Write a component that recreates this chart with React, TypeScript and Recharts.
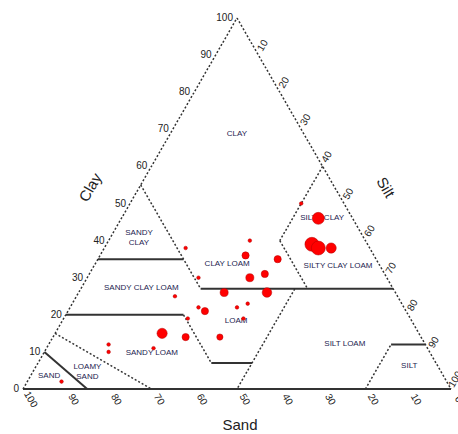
import { ScatterChart, Scatter, XAxis, YAxis, ZAxis, ReferenceLine, ReferenceDot } from "recharts";

// ternary points are [sand, silt, clay] in %
type Tern = [number, number, number];

const sandPct = [43, 27, 30, 23, 28, 32, 44, 40, 30, 36, 39, 48, 47, 52, 52, 39, 60, 55, 47, 74, 75, 64, 90, 10, 8, 13, 12, 9];
const siltPct = [19, 33, 34, 42, 41, 38, 26, 34, 44, 41, 39, 30, 32, 23, 29, 42, 25, 31, 39, 14, 15, 25, 8, 40, 46, 48, 50, 53];
const clayPct = [38, 40, 36, 35, 31, 30, 30, 26, 26, 23, 22, 22, 21, 25, 19, 19, 15, 14, 14, 12, 10, 11, 2, 50, 46, 39, 38, 38];
const weight = [1, 1, 4, 4, 4, 5, 1, 5, 7, 1, 1, 1, 4, 1, 1, 1, 8, 4, 3, 1, 1, 1, 1, 1, 11, 15, 15, 8];

const tickValues = [0, 10, 20, 30, 40, 50, 60, 70, 80, 90, 100];

// texture class boundaries
const solidLines: [Tern, Tern][] = [
  [[100, 0, 0], [0, 100, 0]],
  [[65, 0, 35], [45, 20, 35]],
  [[45, 28, 27], [0, 73, 27]],
  [[80, 0, 20], [52.5, 27.5, 20]],
  [[52.5, 40.5, 7], [43, 50, 7]],
  [[8, 80, 12], [0, 88, 12]],
  [[90, 0, 10], [85, 15, 0]],
];
const dottedLines: [Tern, Tern][] = [
  [[100, 0, 0], [0, 0, 100]],
  [[0, 0, 100], [0, 100, 0]],
  [[45, 0, 55], [45, 28, 27]],
  [[0, 40, 60], [20, 40, 40]],
  [[20, 40, 40], [20, 53, 27]],
  [[52.5, 27.5, 20], [52.5, 40.5, 7]],
  [[23, 50, 27], [50, 50, 0]],
  [[20, 80, 0], [8, 80, 12]],
  [[85, 0, 15], [70, 30, 0]],
];

const regionNames = ["CLAY", "SANDY|CLAY", "CLAY LOAM", "SANDY CLAY LOAM", "LOAM", "SANDY LOAM", "LOAMY|SAND", "SAND", "SILTY CLAY", "SILTY CLAY LOAM", "SILT LOAM", "SILT"];
const regionAt: Tern[] = [
  [15.5, 15.5, 69], [52.4, 6.6, 41], [35.3, 30.7, 34], [58.6, 13.9, 27.5], [40.9, 40.5, 18.6], [64.9, 25.1, 10],
  [82.5, 12.6, 4.9], [92, 4.2, 3.8], [6.9, 46.7, 46.4], [9.7, 56.9, 33.4], [18.6, 69, 12.4], [6.5, 87, 6.5],
];

const toXY = ([sand, silt, clay]: Tern) => ({ x: silt + clay / 2, y: clay });

const points = sandPct.map((s, i) => ({ ...toXY([s, siltPct[i], clayPct[i]]), z: weight[i] }));

const font = "'Liberation Sans', Arial, sans-serif";

export default function App() {
  return (
    <div style={{ position: "absolute", left: 0, top: 0, background: "#fff" }}>
      <ScatterChart width={458} height={434} margin={{ top: 18, right: 7, bottom: 45, left: 23 }}>
        <XAxis type="number" dataKey="x" domain={[0, 100]} hide />
        <YAxis type="number" dataKey="y" domain={[0, 100]} hide />
        <ZAxis type="number" dataKey="z" domain={[0, 15]} range={[0, 154]} />
        {dottedLines.map((seg, i) => (
          <ReferenceLine key={"d" + i} segment={[toXY(seg[0]), toXY(seg[1])]} stroke="#333" strokeWidth={1.5} strokeDasharray="2 2" ifOverflow="visible" />
        ))}
        {solidLines.map((seg, i) => (
          <ReferenceLine key={"s" + i} segment={[toXY(seg[0]), toXY(seg[1])]} stroke="#333" strokeWidth={2} ifOverflow="visible" />
        ))}
        {tickValues.map((v) => (
          <ReferenceDot key={"c" + v} {...toXY([100 - v, 0, v])} r={1} ifOverflow="visible"
            shape={(p: any) => (
              <text x={p.cx - 4} y={p.cy + 3} textAnchor="end" fontSize={10} fontFamily={font} fill="#222">{v}</text>
            )} />
        ))}
        {tickValues.slice(1).map((v) => (
          <ReferenceDot key={"t" + v} {...toXY([0, v, 100 - v])} r={1} ifOverflow="visible"
            shape={(p: any) => (
              <text x={p.cx + 7} y={p.cy - 8} textAnchor="middle" fontSize={10} fontFamily={font} fill="#222"
                transform={`rotate(-60 ${p.cx + 7} ${p.cy - 8})`}>{v}</text>
            )} />
        ))}
        {tickValues.map((v) => (
          <ReferenceDot key={"n" + v} {...toXY([v, 100 - v, 0])} r={1} ifOverflow="visible"
            shape={(p: any) => (
              <text x={p.cx + 5} y={p.cy + 12} textAnchor="middle" fontSize={10} fontFamily={font} fill="#222"
                transform={`rotate(60 ${p.cx + 5} ${p.cy + 12})`}>{v}</text>
            )} />
        ))}
        {regionNames.map((name, i) => (
          <ReferenceDot key={name} {...toXY(regionAt[i])} r={1} ifOverflow="visible"
            shape={(p: any) => (
              <text x={p.cx} y={p.cy + 3} textAnchor="middle" fontSize={8} fontFamily={font} fill="#1c1c50">
                {name.split("|").map((part, k, arr) => (
                  <tspan key={k} x={p.cx} dy={k === 0 ? (arr.length > 1 ? -5 : 0) : 10}>{part}</tspan>
                ))}
              </text>
            )} />
        ))}
        <ReferenceDot {...toXY([45, 0, 55])} r={1} ifOverflow="visible"
          shape={(p: any) => (
            <text x={p.cx - 46} y={p.cy + 5} textAnchor="middle" fontSize={15} fontFamily={font} fill="#222"
              transform={`rotate(-60 ${p.cx - 46} ${p.cy + 5})`}>Clay</text>
          )} />
        <ReferenceDot {...toXY([0, 45, 55])} r={1} ifOverflow="visible"
          shape={(p: any) => (
            <text x={p.cx + 48} y={p.cy + 5} textAnchor="middle" fontSize={15} fontFamily={font} fill="#222"
              transform={`rotate(60 ${p.cx + 48} ${p.cy + 5})`}>Silt</text>
          )} />
        <ReferenceDot {...toXY([50, 50, 0])} r={1} ifOverflow="visible"
          shape={(p: any) => (
            <text x={p.cx + 3} y={p.cy + 41} textAnchor="middle" fontSize={15} fontFamily={font} fill="#222">Sand</text>
          )} />
        <Scatter data={points} fill="#ff0000" stroke="#b00000" strokeWidth={0.5} isAnimationActive={false} />
      </ScatterChart>
    </div>
  );
}
